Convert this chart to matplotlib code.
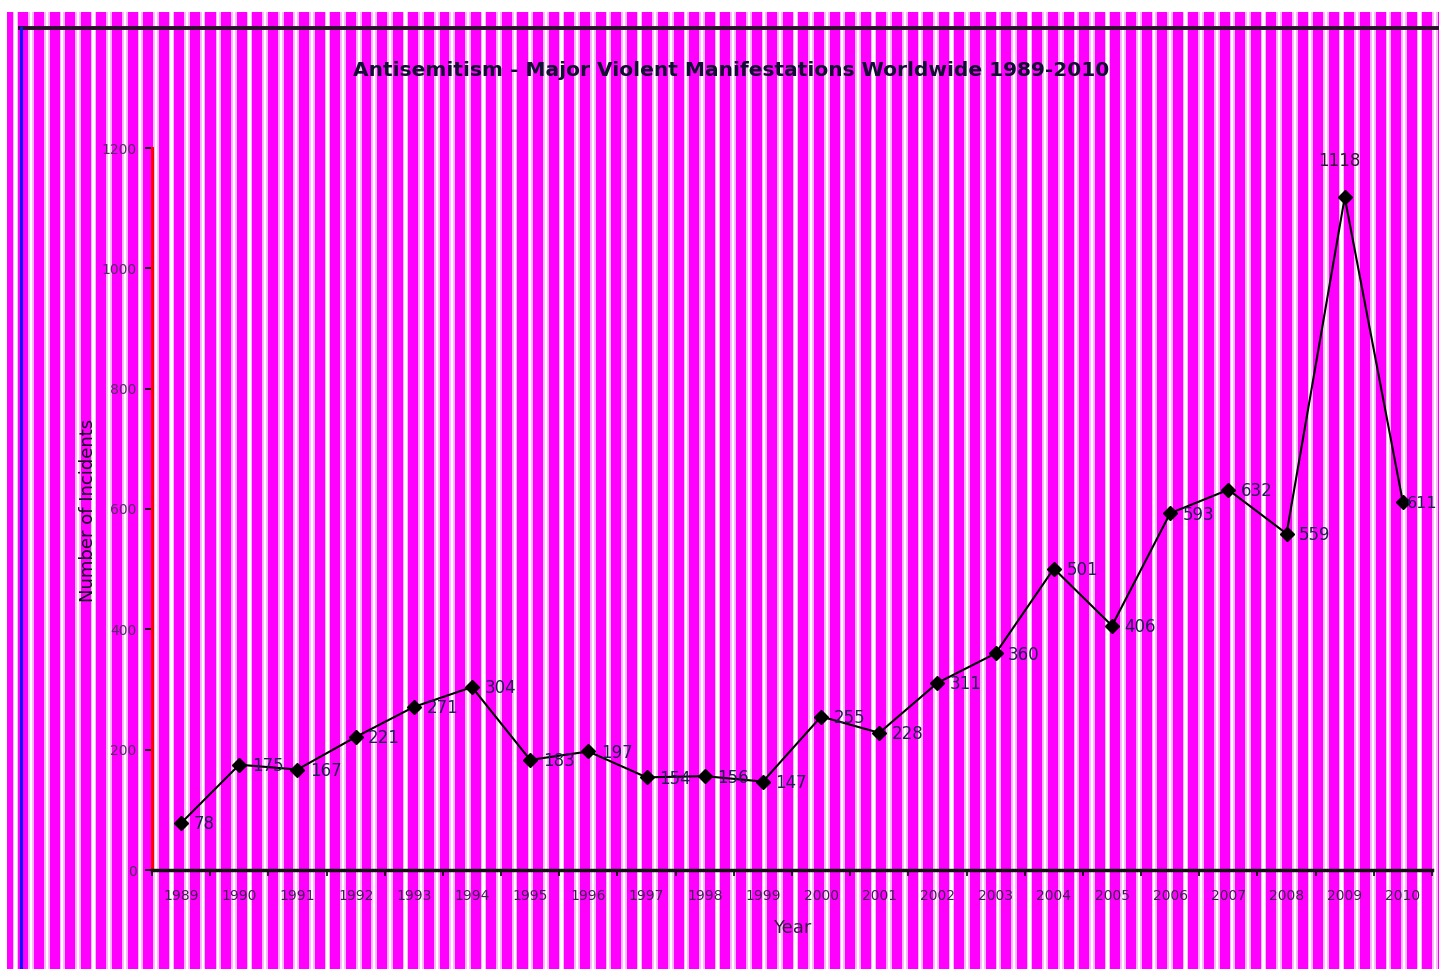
import numpy as np
import matplotlib
matplotlib.use("Agg")
import matplotlib.pyplot as plt
from matplotlib.patches import Rectangle

years = [1989, 1990, 1991, 1992, 1993, 1994, 1995, 1996, 1997, 1998, 1999,
         2000, 2001, 2002, 2003, 2004, 2005, 2006, 2007, 2008, 2009, 2010]
incidents = [78, 175, 167, 221, 271, 304, 183, 197, 154, 156, 147,
             255, 228, 311, 360, 501, 406, 593, 632, 559, 1118, 611]
y_ticks = [0, 200, 400, 600, 800, 1000, 1200]

W, H = 1439, 969
fig = plt.figure(figsize=(W / 100, H / 100), dpi=100)

# striped magenta backdrop, drawn in pixel coordinates
bg = fig.add_axes([0, 0, 1, 1], zorder=0)
bg.set_xlim(0, W)
bg.set_ylim(H, 0)
bg.axis("off")
bg.add_patch(Rectangle((7, 12), W - 7, H - 12, color="#ff00ff", lw=0))
for cx in np.arange(202.7 - 13 * 15.6, W, 15.6):
    if cx < 7:
        continue
    bg.add_patch(Rectangle((cx - 2.8, 12), 5.6, H - 12, color="#ffb8ff", lw=0))
    bg.add_patch(Rectangle((cx - 1.1, 12), 2.2, H - 12, color="white", lw=0))
bg.plot([20, W], [28, 28], color="#2a102a", lw=2.8)
bg.plot([21, 21], [28, H], color="#1010ff", lw=2.2)

x_left, x_right, y_top, y_bot = 152, 1432, 148, 870
ax = fig.add_axes([x_left / W, (H - y_bot) / H,
                   (x_right - x_left) / W, (y_bot - y_top) / H], zorder=1)
ax.set_facecolor("none")

pos = np.arange(len(years))
ax.plot(pos, incidents, color="black", lw=1.5, marker="D", markersize=7,
        markerfacecolor="black", markeredgecolor="black")

last = len(incidents) - 1
for i, v in enumerate(incidents):
    if v == max(incidents):
        ax.annotate(str(v), (i, v), xytext=(-4, 26), textcoords="offset points",
                    ha="center", va="center", fontsize=12, color="#301030")
    elif i == last:
        # right-hand edge leaves little room, so tuck it against the marker
        ax.annotate(str(v), (i, v), xytext=(2.5, -1), textcoords="offset points",
                    ha="left", va="center", fontsize=11.5, color="#202050")
    else:
        ax.annotate(str(v), (i, v), xytext=(9, -1), textcoords="offset points",
                    ha="left", va="center", fontsize=12, color="#202050")

ax.set_xlim(-0.5, len(years) - 0.5)
ax.set_ylim(0, 1200)
ax.set_yticks(y_ticks)
ax.set_yticklabels([str(t) for t in y_ticks], fontsize=10, color="#503060")
ax.set_xticks(pos)
ax.set_xticklabels([str(y) for y in years], fontsize=10, color="#402050")
ax.set_xticks(np.arange(-0.5, len(years), 1), minor=True)
ax.tick_params(axis="x", which="major", length=0, pad=14)
ax.tick_params(axis="x", which="minor", length=4, width=1.2, direction="out")
ax.tick_params(axis="y", length=5, width=1.2, direction="out", pad=6)

for side in ("top", "right"):
    ax.spines[side].set_visible(False)
ax.spines["left"].set_color("#ff0000")
ax.spines["left"].set_linewidth(2.2)
ax.spines["bottom"].set_color("#101010")
ax.spines["bottom"].set_linewidth(2.5)

fig.text(731 / W, 1 - 70 / H,
         "Antisemitism - Major Violent Manifestations Worldwide 1989-2010",
         ha="center", va="center", fontsize=14.5, fontweight="bold",
         color="#101030")
fig.text(88 / W, 1 - 510 / H, "Number of Incidents", rotation=90,
         ha="center", va="center", fontsize=13, color="#101020")
fig.text(792 / W, 1 - 928 / H, "Year", ha="center", va="center",
         fontsize=13, color="#302040")

fig.savefig("out.png", dpi=100)
